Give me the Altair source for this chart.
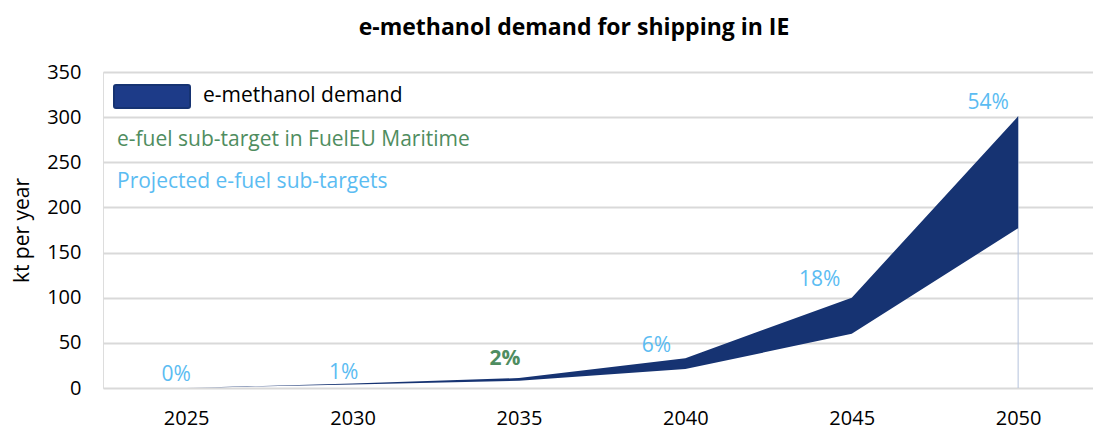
import altair as alt
import pandas as pd

years = [2025, 2030, 2035, 2040, 2045, 2050]
demand_low = [0, 4, 8, 21, 60, 177]
demand_high = [0, 5, 11, 33, 100, 301]

pct_labels = ["0%", "1%", "2%", "6%", "18%", "54%"]
pct_label_y = [14, 17, 32, 47, 120, 316]
pct_dx = [-10, -9, -14, -29, -32, -30]
pct_kind = ["proj", "proj", "fueleu", "proj", "proj", "proj"]

FONT = "Open Sans"
NAVY = "#163372"
LBLUE = "#5bbcf2"
GREEN = "#4f8d60"

df = pd.DataFrame({"year": years, "low": demand_low, "high": demand_high})

xscale = alt.Scale(domain=[2022.5, 2052.25], nice=False, zero=False)
yscale = alt.Scale(domain=[0, 350], nice=False)

base = alt.Chart(df)

area = base.mark_area(color=NAVY, opacity=1).encode(
    x=alt.X("year:Q", scale=xscale,
            axis=alt.Axis(values=years, format="d", title=None, grid=False,
                          domain=False, ticks=False, labelFont=FONT,
                          labelFontSize=20, labelColor="#000000",
                          labelPadding=20)),
    y=alt.Y("low:Q", scale=yscale,
            axis=alt.Axis(values=list(range(0, 351, 50)), title="kt per year",
                          grid=True, gridColor="#d9d9d9", gridWidth=2,
                          domain=False, ticks=False, labelFont=FONT,
                          labelFontSize=20, labelColor="#000000",
                          labelPadding=22, titleFont=FONT, titleFontSize=21,
                          titleFontWeight="normal", titleColor="#000000",
                          titleAngle=-90, titleX=-81, titleY=158,
                          titleAlign="center", titleBaseline="middle")),
    y2="high:Q",
)

last = df[df["year"] == 2050]
vline = alt.Chart(last).mark_rule(color="#b4c2dc", strokeWidth=1).encode(
    x=alt.X("year:Q", scale=xscale),
    y=alt.Y("high:Q", scale=yscale),
    y2=alt.datum(0),
)

layers = [vline, area]

for yr, lab, ly, dx, kind in zip(years, pct_labels, pct_label_y, pct_dx, pct_kind):
    d = pd.DataFrame({"year": [yr], "y": [ly], "label": [lab]})
    bold = kind == "fueleu"
    t = alt.Chart(d).mark_text(
        font=FONT, fontSize=21, dx=dx, baseline="middle", align="center",
        color=GREEN if bold else LBLUE,
        fontWeight="bold" if bold else "normal",
    ).encode(
        x=alt.X("year:Q", scale=xscale),
        y=alt.Y("y:Q", scale=yscale),
        text="label:N",
    )
    layers.append(t)

legend_df = pd.DataFrame({"k": [0]})
swatch = alt.Chart(legend_df).mark_rect(
    color="#1d3b88", stroke=NAVY, strokeWidth=2, cornerRadius=2
).encode(x=alt.value(11), x2=alt.value(87), y=alt.value(13), y2=alt.value(36))

leg_texts = [
    ("e-methanol demand", 100, 24, "#000000"),
    ("e-fuel sub-target in FuelEU Maritime", 14, 68, GREEN),
    ("Projected e-fuel sub-targets", 14, 110, LBLUE),
]
layers.append(swatch)
for txt, lx, ly, col in leg_texts:
    layers.append(
        alt.Chart(legend_df).mark_text(
            text=txt, font=FONT, fontSize=21, align="left",
            baseline="middle", color=col,
        ).encode(x=alt.value(lx), y=alt.value(ly))
    )

chart = alt.layer(*layers).properties(
    width=990,
    height=316,
    title=alt.TitleParams(
        "e-methanol demand for shipping in IE", font=FONT, fontSize=23,
        fontWeight="bold", color="#000000", anchor="middle", dx=-24,
        offset=22,
    ),
    autosize=alt.AutoSizeParams(type="none"),
    padding={"left": 103, "top": 72, "right": 0, "bottom": 42},
).configure_view(stroke=None).configure(background="white")

chart.save("out.html", embed_options={"renderer": "svg", "actions": False})
